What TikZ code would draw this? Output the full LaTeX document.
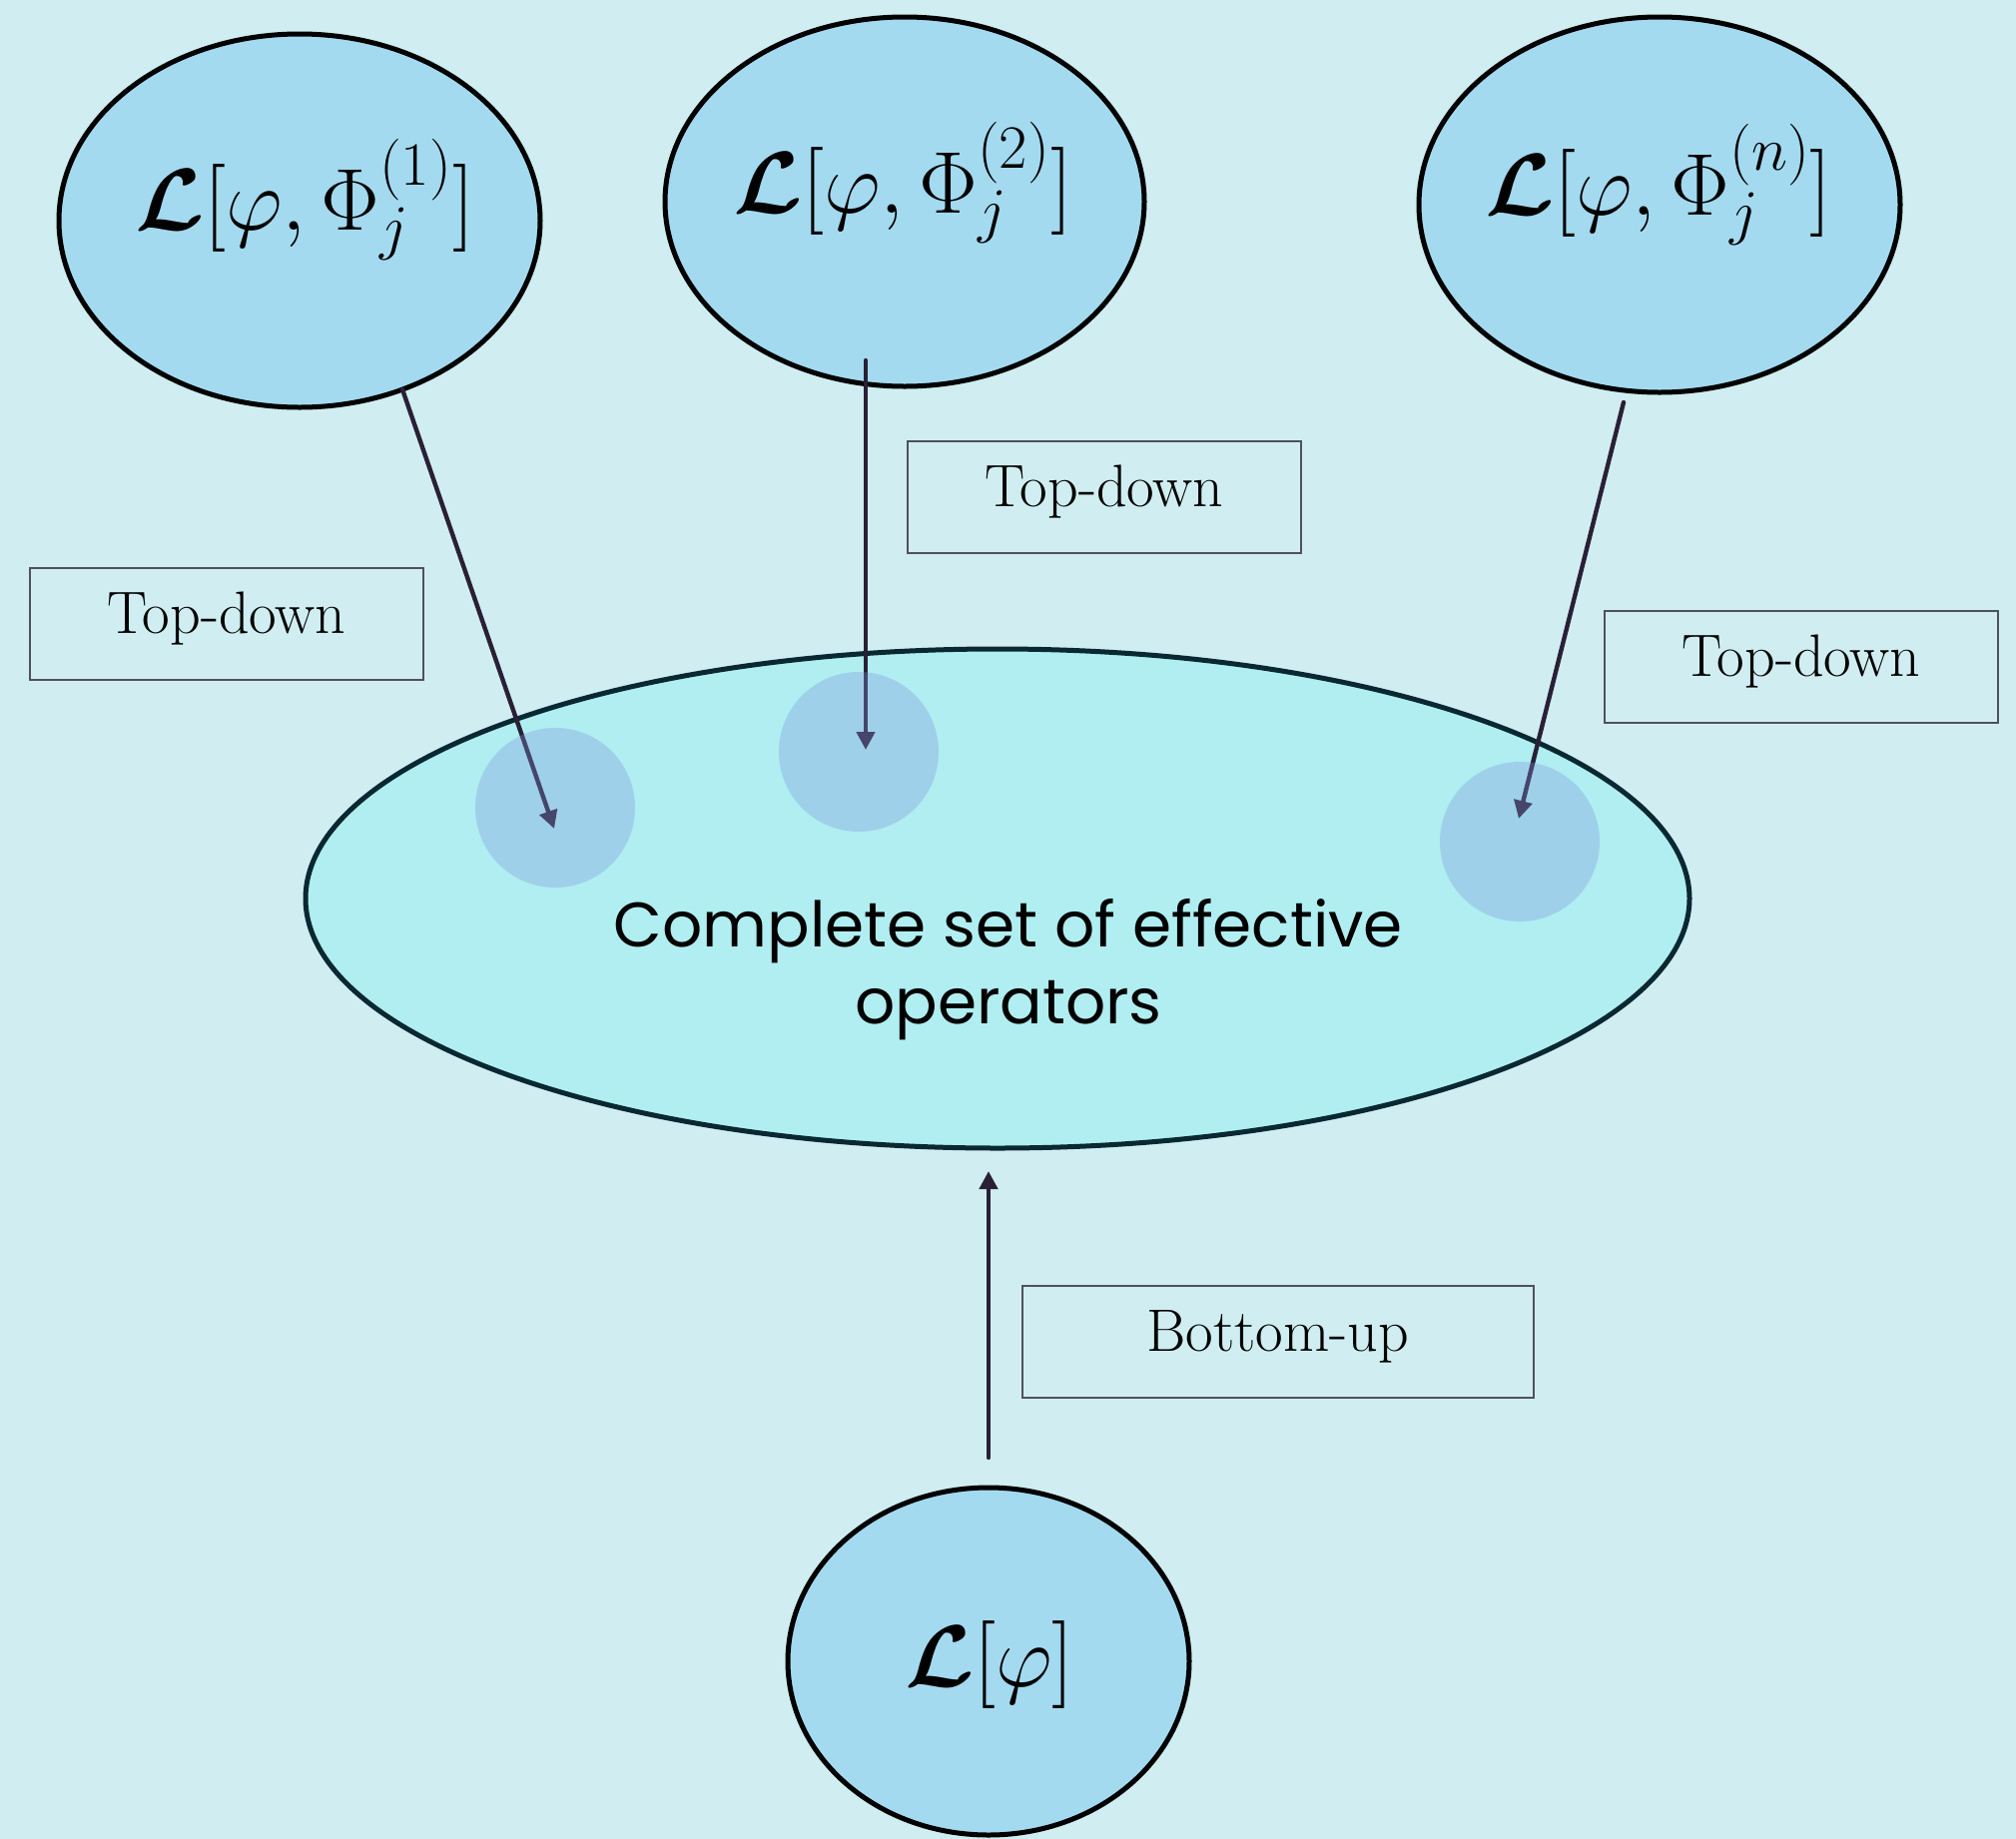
\RequirePackage{fix-cm}
\documentclass[tikz,border=0pt]{standalone}
\usepackage{amsmath,bm}
\usepackage{fontspec}
\newfontfamily\gothic{Poppins}
\usetikzlibrary{arrows.meta,shapes.geometric}
\definecolor{bg}{RGB}{208,238,242}
\definecolor{topfill}{RGB}{163,218,240}
\definecolor{bigfill}{RGB}{176,238,241}
\definecolor{bigline}{RGB}{10,40,50}
\definecolor{spot}{RGB}{127,147,220}
\definecolor{arrowc}{RGB}{42,32,53}
\definecolor{boxline}{RGB}{80,80,96}
\begin{document}
\begin{tikzpicture}[x=0.5pt,y=-0.5pt,
  topell/.style={ellipse, draw=black, line width=2.5pt, fill=topfill, inner sep=0pt},
  bigell/.style={ellipse, draw=bigline, line width=2.5pt, fill=bigfill, inner sep=0pt},
  spotc/.style={circle, fill=spot, fill opacity=0.33, draw=none, minimum size=80pt, inner sep=0pt},
  mathtxt/.style={inner sep=0pt, font=\fontsize{44}{52}\selectfont},
  lbl/.style={rectangle, draw=boxline, line width=0.8pt, minimum height=56pt, inner sep=0pt},
  lbltxt/.style={inner sep=0pt, font=\fontsize{30}{36}\selectfont},
  conn/.style={draw=arrowc, line width=2.2pt, line cap=round, -{Triangle[length=9pt,width=9pt]}}
]
\fill[bg] (0,0) rectangle (2019,1842);
\useasboundingbox (0,0) rectangle (2019,1842);

% central ellipse
\node[bigell, minimum width=693pt, minimum height=250pt] (big) at (999,900) {};
\node[inner sep=0pt, align=center, font=\gothic\fontsize{31.5}{38.5}\selectfont] (bigtxt) at (1010,971) {Complete set of effective\\operators};

% top and bottom ellipses
\node[topell, minimum width=241pt, minimum height=187pt] (e1) at (300,221) {};
\node[topell, minimum width=240pt, minimum height=185pt] (e2) at (906,202) {};
\node[topell, minimum width=241pt, minimum height=188pt] (e3) at (1662,205) {};
\node[topell, minimum width=201pt, minimum height=174pt] (e4) at (990,1664) {};

\node[mathtxt] (t1) at (305,200) {$\bm{\mathcal{L}}[\varphi,\Phi_j^{(1)}]$};
\node[mathtxt] (t2) at (904,183) {$\bm{\mathcal{L}}[\varphi,\Phi_j^{(2)}]$};
\node[mathtxt] (t3) at (1661,185) {$\bm{\mathcal{L}}[\varphi,\Phi_j^{(n)}]$};
\node[mathtxt] (t4) at (991,1667) {$\bm{\mathcal{L}}[\varphi]$};

% arrow end points
\coordinate (s1) at (403,390);
\coordinate (d1) at (555,830);
\coordinate (s2) at (867,361);
\coordinate (d2) at (867,751);
\coordinate (s3) at (1626,403);
\coordinate (d3) at (1521,820);
\coordinate (s4) at (990,1460);
\coordinate (d4) at (990,1173);

\draw[conn] (s1) -- (d1);
\draw[conn] (s2) -- (d2);
\draw[conn] (s3) -- (d3);
\draw[conn] (s4) -- (d4);

% translucent spots
\node[spotc] (c1) at (556,809) {};
\node[spotc] (c2) at (860,753) {};
\node[spotc] (c3) at (1522,843) {};

% label boxes
\node[lbl, minimum width=197pt] (la) at (227,625) {};
\node[lbl, minimum width=197pt] (lb) at (1106,498) {};
\node[lbl, minimum width=197pt] (lc) at (1804,668) {};
\node[lbl, minimum width=256pt] (ld) at (1280,1344) {};
% label texts
\node[lbltxt] (lat) at ([yshift=2.5pt]la.center) {Top-down};
\node[lbltxt] (lbt) at ([yshift=2.5pt]lb.center) {Top-down};
\node[lbltxt] (lct) at ([yshift=2.5pt]lc.center) {Top-down};
\node[lbltxt] (ldt) at ([yshift=2.5pt]ld.center) {Bottom-up};
\end{tikzpicture}
\end{document}
